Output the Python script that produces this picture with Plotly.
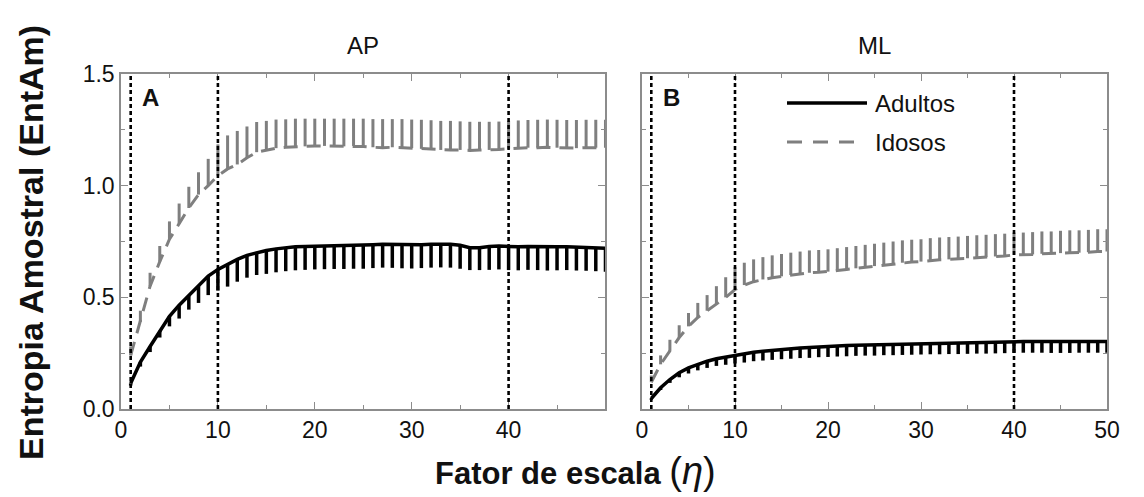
import plotly.graph_objects as go

escala = list(range(1, 51))

ap_adultos = [0.115, 0.21, 0.28, 0.35, 0.415, 0.465, 0.51, 0.55, 0.595, 0.625,
              0.648, 0.67, 0.688, 0.70, 0.71, 0.717, 0.722, 0.726, 0.728, 0.73,
              0.731, 0.732, 0.732, 0.733, 0.733, 0.736, 0.738, 0.737, 0.735, 0.734,
              0.736, 0.738, 0.739, 0.738, 0.733, 0.722, 0.722, 0.728, 0.73, 0.727,
              0.726, 0.728, 0.727, 0.725, 0.726, 0.727, 0.725, 0.724, 0.722, 0.72]
ap_adultos_dp = [0.01, 0.02, 0.025, 0.03, 0.045, 0.06, 0.065, 0.075, 0.085, 0.095,
                 0.1, 0.1, 0.1, 0.1, 0.105, 0.105, 0.105, 0.105, 0.105, 0.105,
                 0.105, 0.105, 0.105, 0.105, 0.105, 0.105, 0.105, 0.105, 0.105, 0.105,
                 0.105, 0.105, 0.105, 0.105, 0.105, 0.1, 0.1, 0.105, 0.105, 0.105,
                 0.105, 0.105, 0.105, 0.105, 0.105, 0.105, 0.105, 0.105, 0.105, 0.105]
ap_idosos = [0.24, 0.39, 0.55, 0.66, 0.76, 0.83, 0.90, 0.96, 1.00, 1.045,
             1.075, 1.095, 1.125, 1.15, 1.16, 1.168, 1.172, 1.175, 1.176, 1.178,
             1.178, 1.177, 1.176, 1.178, 1.175, 1.172, 1.17, 1.172, 1.17, 1.168,
             1.165, 1.163, 1.16, 1.16, 1.16, 1.158, 1.16, 1.16, 1.162, 1.165,
             1.168, 1.17, 1.17, 1.172, 1.17, 1.168, 1.168, 1.17, 1.17, 1.17]
ap_idosos_dp = [0.04, 0.05, 0.06, 0.07, 0.08, 0.09, 0.095, 0.10, 0.12, 0.14,
                0.15, 0.15, 0.14, 0.135, 0.13, 0.128, 0.125, 0.125, 0.124, 0.122,
                0.122, 0.123, 0.124, 0.122, 0.125, 0.126, 0.128, 0.126, 0.128, 0.128,
                0.13, 0.13, 0.13, 0.13, 0.128, 0.128, 0.126, 0.126, 0.125, 0.125,
                0.124, 0.124, 0.125, 0.124, 0.125, 0.126, 0.126, 0.125, 0.125, 0.125]

ml_adultos = [0.047, 0.095, 0.132, 0.162, 0.184, 0.201, 0.214, 0.225, 0.233, 0.241,
              0.248, 0.254, 0.259, 0.263, 0.267, 0.27, 0.273, 0.275, 0.278, 0.28,
              0.282, 0.284, 0.286, 0.287, 0.288, 0.29, 0.291, 0.292, 0.293, 0.294,
              0.295, 0.295, 0.296, 0.296, 0.297, 0.298, 0.298, 0.299, 0.30, 0.301,
              0.302, 0.302, 0.302, 0.301, 0.301, 0.301, 0.302, 0.302, 0.302, 0.302]
ml_adultos_dp = [0.005, 0.01, 0.015, 0.02, 0.025, 0.028, 0.03, 0.032, 0.035, 0.037,
                 0.04, 0.04, 0.042, 0.043, 0.044, 0.045, 0.045, 0.046, 0.046, 0.047,
                 0.047, 0.048, 0.048, 0.048, 0.049, 0.049, 0.05, 0.05, 0.05, 0.05,
                 0.05, 0.05, 0.05, 0.05, 0.05, 0.05, 0.05, 0.05, 0.05, 0.05,
                 0.05, 0.05, 0.05, 0.05, 0.05, 0.05, 0.05, 0.05, 0.05, 0.05]
ml_idosos = [0.12, 0.20, 0.26, 0.32, 0.37, 0.41, 0.44, 0.47, 0.50, 0.535,
             0.555, 0.57, 0.58, 0.588, 0.594, 0.60, 0.605, 0.61, 0.612, 0.615,
             0.62, 0.625, 0.63, 0.635, 0.64, 0.645, 0.65, 0.655, 0.658, 0.66,
             0.665, 0.668, 0.67, 0.672, 0.675, 0.678, 0.68, 0.683, 0.685, 0.69,
             0.69, 0.692, 0.695, 0.695, 0.698, 0.70, 0.70, 0.702, 0.705, 0.705]
ml_idosos_dp = [0.03, 0.04, 0.05, 0.055, 0.06, 0.065, 0.07, 0.08, 0.09, 0.10,
                0.10, 0.10, 0.10, 0.10, 0.10, 0.10, 0.10, 0.10, 0.10, 0.10,
                0.10, 0.10, 0.10, 0.10, 0.10, 0.10, 0.10, 0.10, 0.10, 0.10,
                0.10, 0.10, 0.10, 0.10, 0.10, 0.10, 0.10, 0.10, 0.10, 0.10,
                0.10, 0.10, 0.10, 0.10, 0.10, 0.10, 0.10, 0.10, 0.10, 0.10]

marcas = [1, 10, 40]
paineis = ["AP", "ML"]
rotulos = ["A", "B"]
series = ["Adultos", "Idosos"]

W, H = 1144, 497
FONT = "Liberation Sans, Arial, sans-serif"
GRAY = "#7f7f7f"
FRAME = "#8c8c8c"
ZEROS = [0] * len(escala)


def px(v):
    return v / W


def py(v):
    return 1 - v / H


fig = go.Figure()

dados = [
    ("x", "y", ap_adultos, ap_adultos_dp, ap_idosos, ap_idosos_dp),
    ("x2", "y2", ml_adultos, ml_adultos_dp, ml_idosos, ml_idosos_dp),
]
for xa, ya, ad, ad_dp, ido, ido_dp in dados:
    fig.add_trace(go.Scatter(
        x=escala, y=ido, xaxis=xa, yaxis=ya, mode="lines", name=series[1],
        line=dict(color=GRAY, width=3, dash="14px,9px"),
        error_y=dict(type="data", symmetric=False, array=ido_dp, arrayminus=ZEROS,
                     width=0, thickness=3, color=GRAY),
        showlegend=False))
    fig.add_trace(go.Scatter(
        x=escala, y=ad, xaxis=xa, yaxis=ya, mode="lines", name=series[0],
        line=dict(color="black", width=3.5),
        error_y=dict(type="data", symmetric=False, array=ZEROS, arrayminus=ad_dp,
                     width=0, thickness=3.5, color="black"),
        showlegend=False))

axis_common = dict(
    showline=True, linecolor=FRAME, linewidth=1.5, mirror="allticks",
    ticks="inside", ticklen=7, tickwidth=1.2, tickcolor=FRAME,
    showgrid=False, zeroline=False, automargin=False,
    tickfont=dict(family=FONT, size=23, color="#111"),
)
minor_x = dict(dtick=5, ticks="inside", ticklen=4, tickcolor=FRAME)
minor_y = dict(dtick=0.25, ticks="inside", ticklen=4, tickcolor=FRAME)

xd1 = [px(121), px(605)]
xd2 = [px(642), px(1107)]
yd = [py(409), py(74)]

fig.update_layout(
    width=W, height=H, margin=dict(l=0, r=0, t=0, b=0, pad=0, autoexpand=False),
    paper_bgcolor="white", plot_bgcolor="white", showlegend=False,
    xaxis=dict(domain=xd1, range=[0, 49.95], dtick=10, tick0=0, minor=minor_x,
               anchor="y", **axis_common),
    yaxis=dict(domain=yd, range=[0, 1.5], dtick=0.5, tickformat=".1f", minor=minor_y,
               anchor="x", **axis_common),
    xaxis2=dict(domain=xd2, range=[0, 50], dtick=10, tick0=0, minor=minor_x,
                anchor="y2", **axis_common),
    yaxis2=dict(domain=yd, range=[0, 1.5], dtick=0.5, showticklabels=False,
                minor=minor_y, anchor="x2", **axis_common),
)

# vertical dotted reference lines
for xa, ya in [("x", "y"), ("x2", "y2")]:
    for m in marcas:
        fig.add_shape(type="line", xref=xa, yref=ya + " domain", x0=m, x1=m, y0=0, y1=1,
                      line=dict(color="black", width=2.6, dash="4px,3px"), layer="above")

# panel titles and letters
for i, (xa, nome) in enumerate([("x", paineis[0]), ("x2", paineis[1])]):
    fig.add_annotation(text=nome, xref=xa + " domain", yref="paper", x=0.5, y=py(46),
                       yanchor="middle", showarrow=False,
                       font=dict(family=FONT, size=24, color="#111"))
    fig.add_annotation(text="<b>" + rotulos[i] + "</b>", xref=xa + " domain",
                       yref="paper", x=0.04, y=py(98), xanchor="left", yanchor="middle",
                       showarrow=False, font=dict(family=FONT, size=24, color="#111"))

# axis titles
fig.add_annotation(text="<b>Entropia Amostral (EntAm)</b>", textangle=-90,
                   xref="paper", yref="paper", x=px(31), y=py(243),
                   xanchor="center", yanchor="middle", showarrow=False,
                   font=dict(family=FONT, size=34, color="#111"))
fig.add_annotation(text="<b>Fator de escala </b><span style='font-size:38px'>(<i>η</i>)</span>",
                   xref="paper", yref="paper", x=px(575), y=py(471),
                   xanchor="center", yanchor="middle", showarrow=False,
                   font=dict(family=FONT, size=31, color="#111"))

# legend (inside panel B)
fig.add_shape(type="line", xref="paper", yref="paper", x0=px(787), x1=px(867),
              y0=py(103), y1=py(103), line=dict(color="black", width=3.5))
fig.add_shape(type="line", xref="paper", yref="paper", x0=px(787), x1=px(860),
              y0=py(142), y1=py(142), line=dict(color=GRAY, width=3, dash="15px,11px"))
fig.add_annotation(text=series[0], xref="paper", yref="paper", x=px(873), y=py(103),
                   xanchor="left", yanchor="middle", showarrow=False,
                   font=dict(family=FONT, size=24, color="#111"))
fig.add_annotation(text=series[1], xref="paper", yref="paper", x=px(873), y=py(142),
                   xanchor="left", yanchor="middle", showarrow=False,
                   font=dict(family=FONT, size=24, color="#111"))

fig.write_html("out.html")
